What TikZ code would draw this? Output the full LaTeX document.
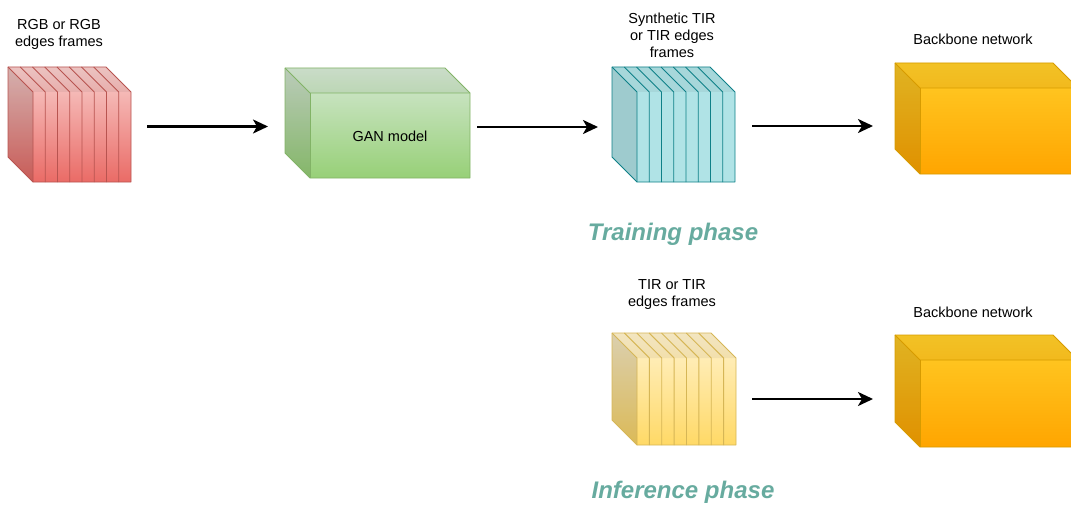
\documentclass[tikz,border=0pt]{standalone}
\usepackage{fontspec}
\setmainfont{Liberation Sans}
\usepackage{xcolor}
\usepackage{tikz}
\usetikzlibrary{arrows.meta}
\definecolor{rgbtop}{RGB}{248,206,204}
\definecolor{rgbbot}{RGB}{234,107,102}
\definecolor{rgbline}{RGB}{184,84,80}
\definecolor{syntop}{RGB}{176,227,230}
\definecolor{synline}{RGB}{14,128,136}
\definecolor{tirtop}{RGB}{255,242,204}
\definecolor{tirbot}{RGB}{255,217,102}
\definecolor{tirline}{RGB}{214,182,86}
\definecolor{gantop}{RGB}{213,232,212}
\definecolor{ganbot}{RGB}{151,208,119}
\definecolor{ganline}{RGB}{130,179,102}
\definecolor{bbtop}{RGB}{255,205,40}
\definecolor{bbbot}{RGB}{255,165,0}
\definecolor{bbline}{RGB}{215,155,0}
\definecolor{phasegreen}{RGB}{103,171,159}

\begin{document}
\begin{tikzpicture}[
  x=1pt, y=-1pt,
  lbl/.style={align=center, font=\fontsize{14.5}{17}\selectfont, inner sep=0pt},
  phase/.style={font=\fontsize{24}{28}\selectfont\bfseries\itshape, text=phasegreen, inner sep=0pt},
  block/.style={inner sep=0pt, outer sep=0pt},
  edgeline/.style={line width=0.9pt, line join=round},
  flow/.style={-{Stealth[length=15pt, width=14pt, inset=4pt]}, line width=2.2pt}
]
  \useasboundingbox (0,0) rectangle (1071,508);
  \foreach \nm/\x/\y/\w/\h/\ct/\cb/\cl/\op in {rgb/8/67/98/90/rgbtop/rgbbot/rgbline/.14,
      syn/612/67/98/90/syntop/syntop/synline/.1, tir/612/333/99/87/tirtop/tirbot/tirline/.14} {
    \shade[top color=\ct, bottom color=\cb] (\x,\y) -- ++(\w,0) -- ++(25,25) -- ++(0,\h) -- ++(-\w,0) -- ++(-25,-25) -- cycle;
    \fill[black, opacity=\op] (\x,\y) -- ++(25,25) -- ++(0,\h) -- ++(-25,-25) -- cycle;
    \fill[black, opacity=.05] (\x,\y) -- ++(\w,0) -- ++(25,25) -- ++(-\w,0) -- cycle;
    \draw[edgeline, draw=\cl] (\x,\y) -- ++(\w,0) -- ++(25,25) -- ++(0,\h) -- ++(-\w,0) -- ++(-25,-25) -- cycle;
    \foreach \i in {0,...,7}
      \draw[edgeline, draw=\cl] (\x+\i*\w/8,\y) -- ++(25,25) -- ++(0,\h);
    \node[block, minimum width=\w+25, minimum height=\h+25] (\nm) at (\x+\w/2+12.5,\y+\h/2+12.5) {};
  }
  \foreach \nm/\x/\y/\w/\h/\ct/\cb/\cl in {gan/285/68/160/85/gantop/ganbot/ganline,
      bb1/895/63/158/86/bbtop/bbbot/bbline, bb2/895/335/158/87/bbtop/bbbot/bbline} {
    \shade[top color=\ct, bottom color=\cb] (\x,\y) -- ++(\w,0) -- ++(25,25) -- ++(0,\h) -- ++(-\w,0) -- ++(-25,-25) -- cycle;
    \fill[black, opacity=.12] (\x,\y) -- ++(25,25) -- ++(0,\h) -- ++(-25,-25) -- cycle;
    \fill[black, opacity=.05] (\x,\y) -- ++(\w,0) -- ++(25,25) -- ++(-\w,0) -- cycle;
    \draw[edgeline, draw=\cl] (\x,\y) -- ++(\w,0) -- ++(25,25) -- ++(0,\h) -- ++(-\w,0) -- ++(-25,-25) -- cycle;
    \draw[edgeline, draw=\cl] (\x,\y) -- ++(25,25) -- ++(\w,0);
    \draw[edgeline, draw=\cl] (\x+25,\y+25) -- ++(0,\h);
    \node[block, minimum width=\w+25, minimum height=\h+25] (\nm) at (\x+\w/2+12.5,\y+\h/2+12.5) {};
  }
  \node[lbl] (rgbtxt) at (59,34) {RGB or RGB\\edges frames};
  \node[lbl] (syntxt) at (672,35) {Synthetic TIR\\or TIR edges\\frames};
  \node[lbl] (bb1txt) at (973,39) {Backbone network};
  \node[lbl] (gantxt) at (390,136) {GAN model};
  \node[phase] (train) at (673,234) {Training phase};
  \node[lbl] (tirtxt) at (672,295) {TIR or TIR\\edges frames};
  \node[lbl] (bb2txt) at (973,312) {Backbone network};
  \node[phase] (infer) at (683,492) {Inference phase};
  \foreach \a/\b/\dy/\sa/\sb in {rgb/gan/-2/16/17, gan/syn/-4/7/14, syn/bb1/-1.5/17/22, tir/bb2/-10/16/22} {
    \coordinate (\a out) at ([yshift=\dy pt]\a.east);
    \draw[flow, shorten <=\sa pt, shorten >=\sb pt] (\a out) -- (\a out -| \b.west);
  }
\end{tikzpicture}
\end{document}
